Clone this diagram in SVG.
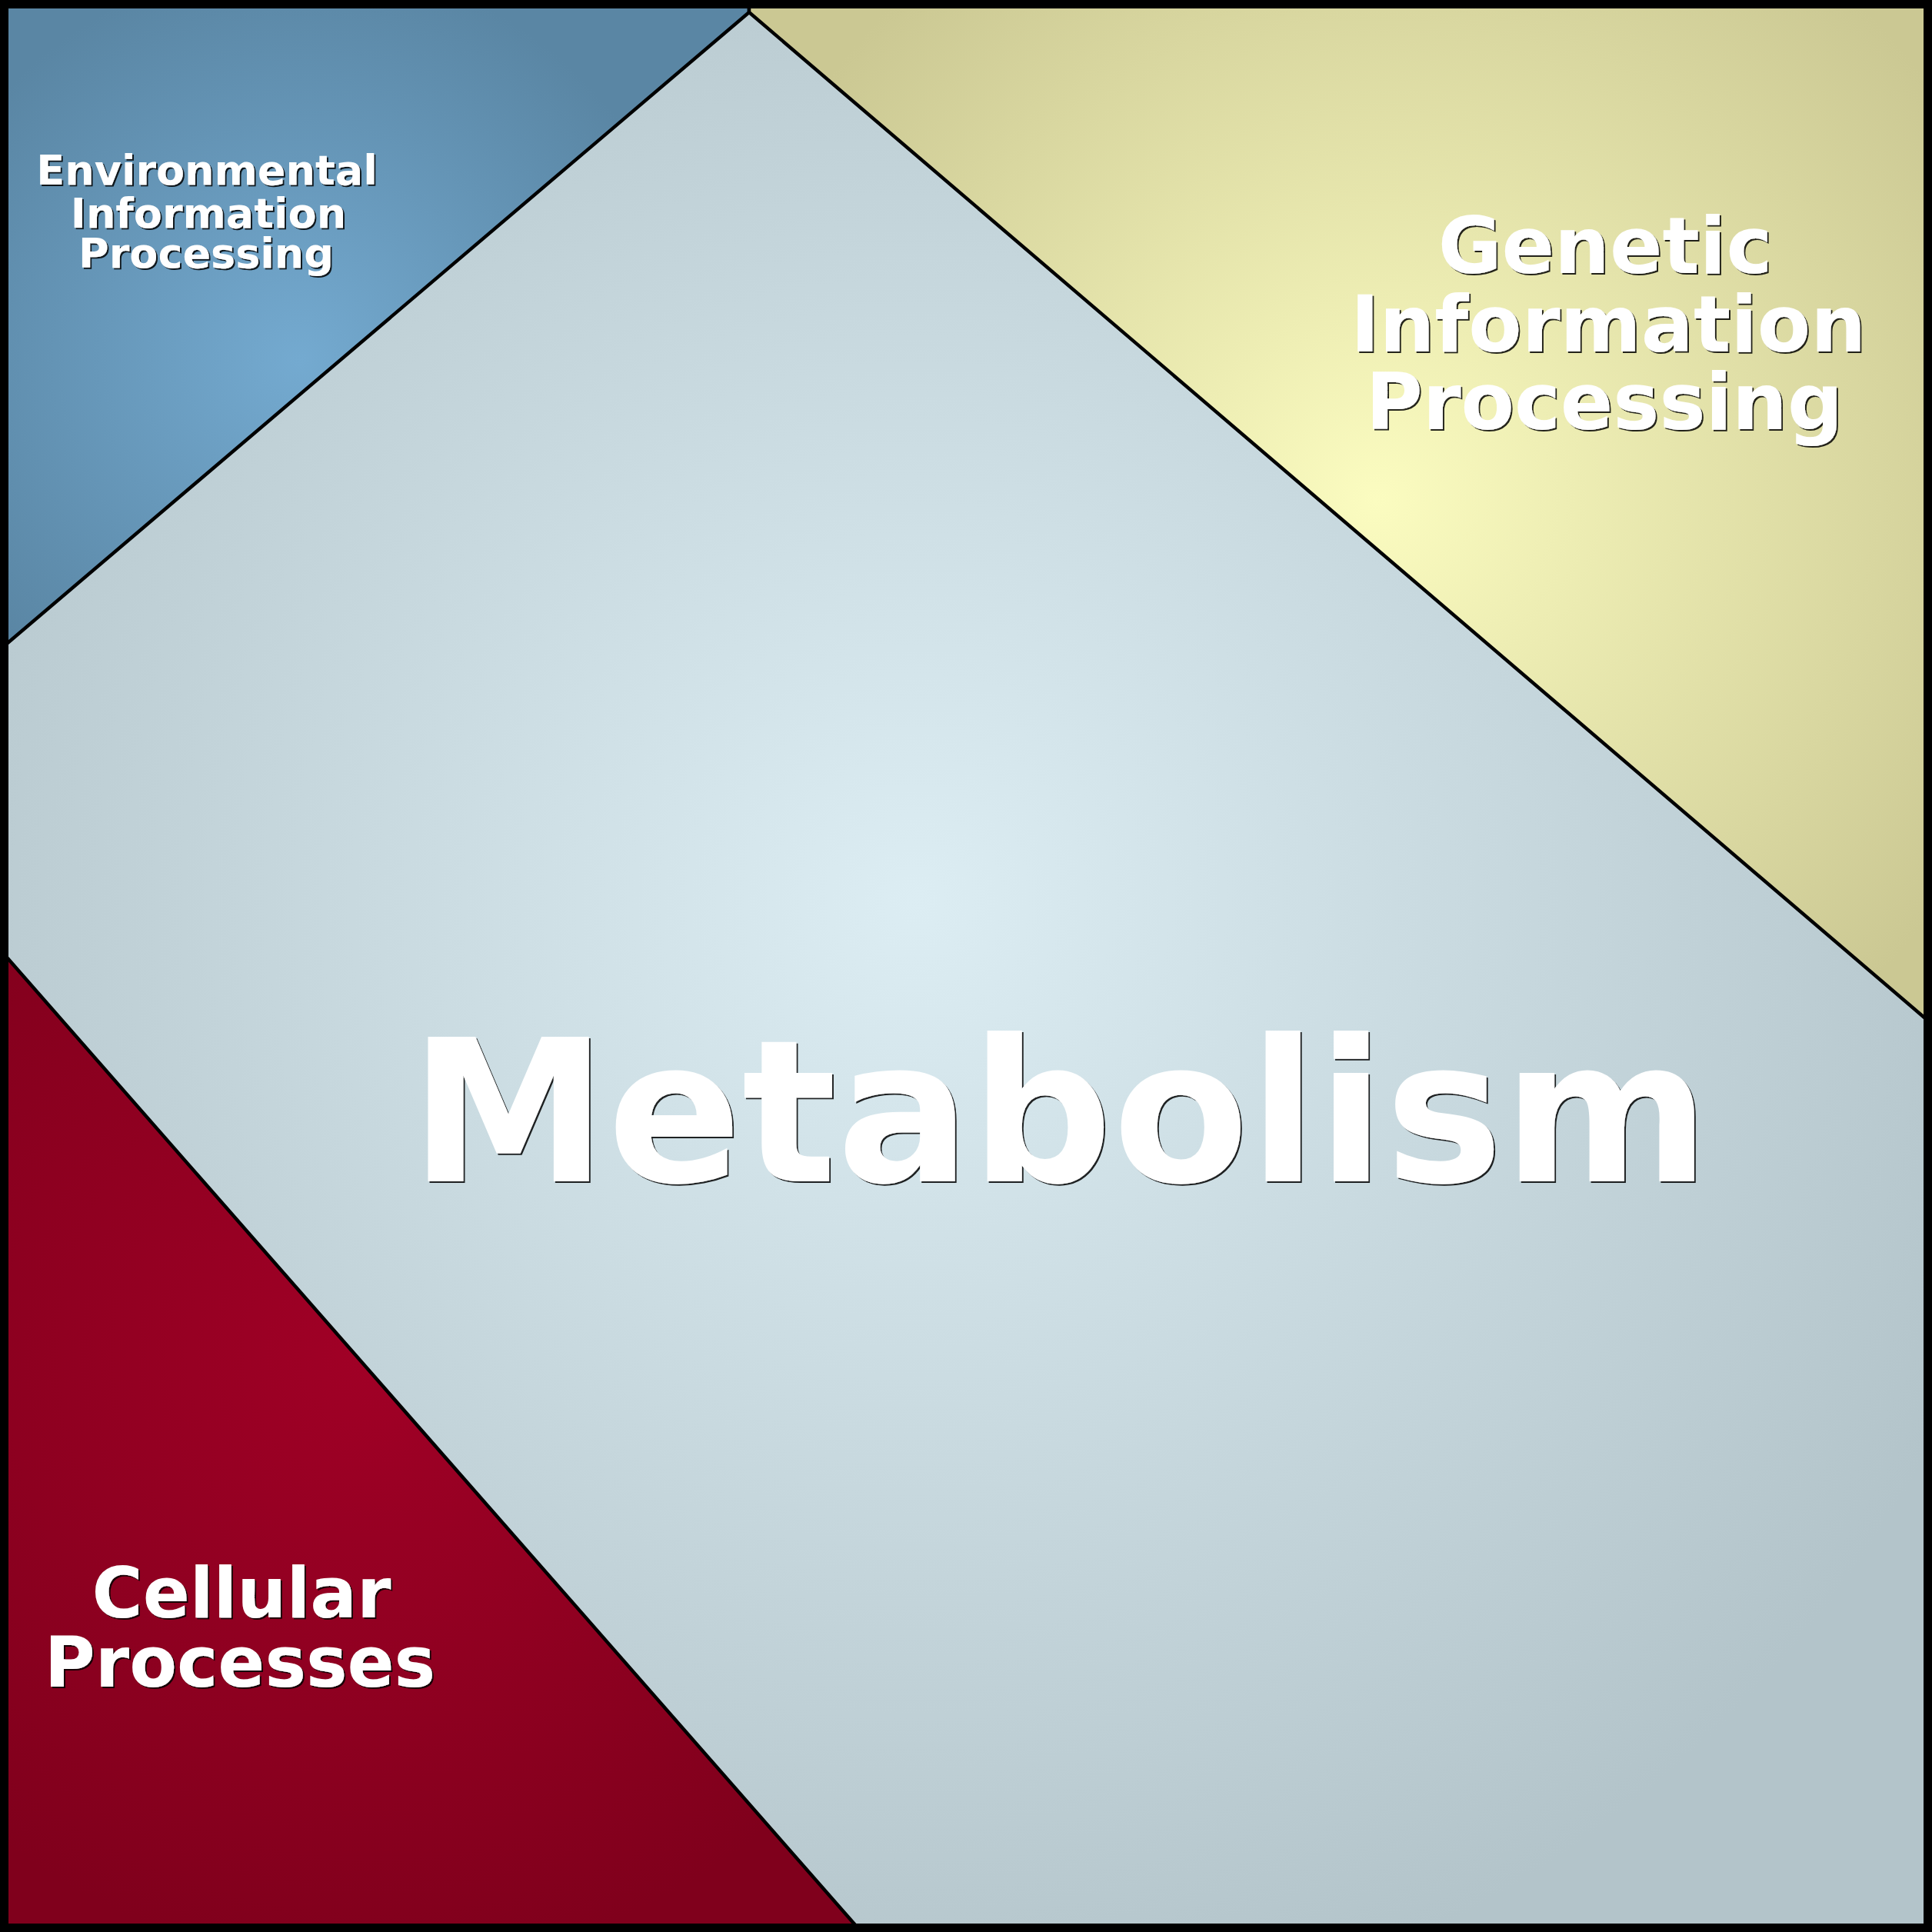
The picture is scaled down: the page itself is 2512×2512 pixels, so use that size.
<svg xmlns="http://www.w3.org/2000/svg" width="2512" height="2512" viewBox="0 0 2512 2512">
<defs>
<radialGradient id="gMeta" gradientUnits="userSpaceOnUse" cx="1190" cy="1170" r="1500">
<stop offset="0" stop-color="#dcedf3"/>
<stop offset="1" stop-color="#b3c4ca"/>
</radialGradient>
<radialGradient id="gEnv" gradientUnits="userSpaceOnUse" cx="390" cy="470" r="520">
<stop offset="0" stop-color="#74aad0"/>
<stop offset="1" stop-color="#5a86a4"/>
</radialGradient>
<radialGradient id="gGen" gradientUnits="userSpaceOnUse" cx="1790" cy="650" r="900">
<stop offset="0" stop-color="#fbfcc0"/>
<stop offset="1" stop-color="#cbc893"/>
</radialGradient>
<radialGradient id="gCell" gradientUnits="userSpaceOnUse" cx="490" cy="1760" r="800">
<stop offset="0" stop-color="#a10026"/>
<stop offset="1" stop-color="#80001c"/>
</radialGradient>
<filter id="shadow" x="-5%" y="-5%" width="110%" height="120%">
<feDropShadow dx="2" dy="2" stdDeviation="0.4" flood-color="#000" flood-opacity="0.85"/>
</filter>
</defs>
<style>
.sep{stroke:#000;stroke-width:4.5;stroke-linejoin:round}
.lbl{font-family:"DejaVu Sans","Liberation Sans",sans-serif;font-weight:bold;text-anchor:middle;fill:#fff;filter:url(#shadow)}
</style>
<g id="metabolism">
<rect x="0" y="0" width="2512" height="2512" fill="url(#gMeta)"/>
<text class="lbl" x="1378" y="1536" font-size="258">Metabolism</text>
</g>
<g id="environmental">
<polygon class="sep" points="8,8 974,8 974,16 10,836 8,836" fill="url(#gEnv)"/>
<g font-size="54">
<text class="lbl" x="269" y="240">Environmental</text>
<text class="lbl" x="271" y="296">Information</text>
<text class="lbl" x="268" y="348">Processing</text>
</g>
</g>
<g id="genetic">
<polygon class="sep" points="974,16 974,8 2504,8 2504,1323 2502,1323" fill="url(#gGen)"/>
<g font-size="101">
<text class="lbl" x="2087" y="355">Genetic</text>
<text class="lbl" x="2091" y="457">Information</text>
<text class="lbl" x="2086" y="558">Processing</text>
</g>
</g>
<g id="cellular">
<polygon class="sep" points="8,1246 10,1246 1113,2504 8,2504" fill="url(#gCell)"/>
<g font-size="90">
<text class="lbl" x="314" y="2103">Cellular</text>
<text class="lbl" x="312" y="2193">Processes</text>
</g>
</g>
<rect id="frame" x="5.5" y="5.5" width="2501" height="2501" fill="none" stroke="#000" stroke-width="11"/>
</svg>
